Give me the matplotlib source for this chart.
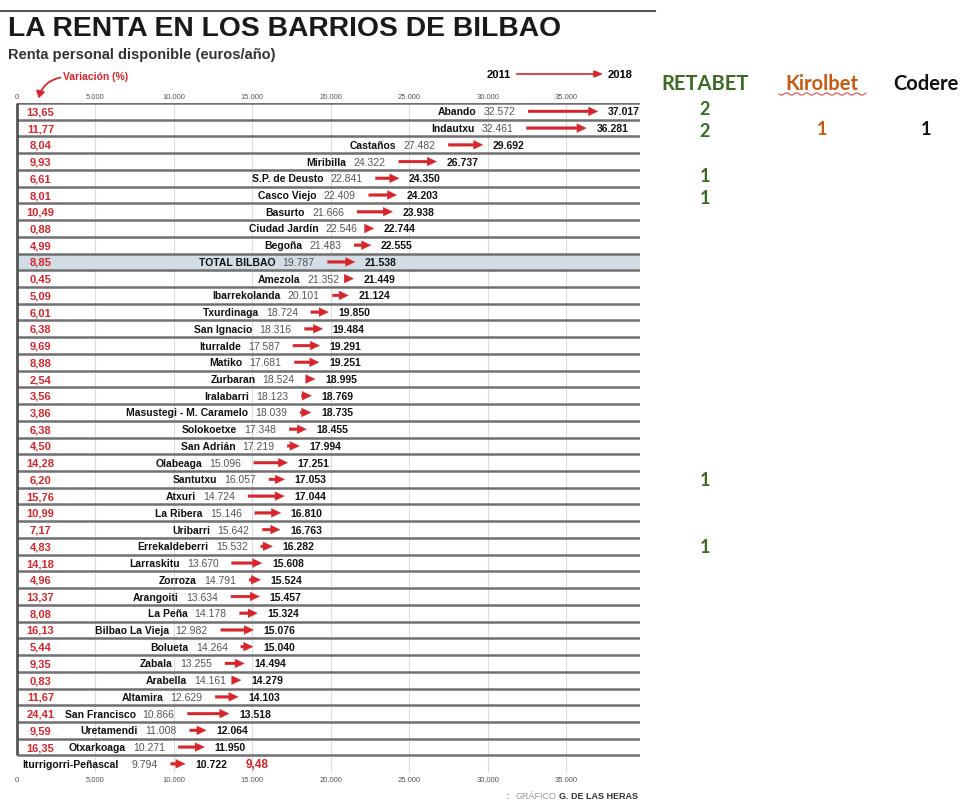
import numpy as np
import matplotlib.pyplot as plt
import matplotlib.transforms as mtransforms
from matplotlib.lines import Line2D
from matplotlib.patches import FancyArrowPatch

plt.rcParams['font.family'] = ['Liberation Sans Narrow', 'Liberation Sans', 'DejaVu Sans']

# datos: renta personal disponible por barrio (euros/año)
names = ["Abando", "Indautxu", "Castaños", "Miribilla", "S.P. de Deusto", "Casco Viejo",
         "Basurto", "Ciudad Jardín", "Begoña", "TOTAL BILBAO", "Amezola", "Ibarrekolanda",
         "Txurdinaga", "San Ignacio", "Iturralde", "Matiko", "Zurbaran", "Iralabarri",
         "Masustegi - M. Caramelo", "Solokoetxe", "San Adrián", "Olabeaga", "Santutxu",
         "Atxuri", "La Ribera", "Uribarri", "Errekaldeberri", "Larraskitu", "Zorroza",
         "Arangoiti", "La Peña", "Bilbao La Vieja", "Bolueta", "Zabala", "Arabella",
         "Altamira", "San Francisco", "Uretamendi", "Otxarkoaga", "Iturrigorri-Peñascal"]
renta_2011 = [32572, 32461, 27482, 24322, 22841, 22409, 21666, 22546, 21483, 19787,
              21352, 20101, 18724, 18316, 17587, 17681, 18524, 18123, 18039, 17348,
              17219, 15096, 16057, 14724, 15146, 15642, 15532, 13670, 14791, 13634,
              14178, 12982, 14264, 13255, 14161, 12629, 10866, 11008, 10271, 9794]
renta_2018 = [37017, 36281, 29692, 26737, 24350, 24203, 23938, 22744, 22555, 21538,
              21449, 21124, 19850, 19484, 19291, 19251, 18995, 18769, 18735, 18455,
              17994, 17251, 17053, 17044, 16810, 16763, 16282, 15608, 15524, 15457,
              15324, 15076, 15040, 14494, 14279, 14103, 13518, 12064, 11950, 10722]
variacion = [13.65, 11.77, 8.04, 9.93, 6.61, 8.01, 10.49, 0.88, 4.99, 8.85,
             0.45, 5.09, 6.01, 6.38, 9.69, 8.88, 2.54, 3.56, 3.86, 6.38,
             4.50, 14.28, 6.20, 15.76, 10.99, 7.17, 4.83, 14.18, 4.96, 13.37,
             8.08, 16.13, 5.44, 9.35, 0.83, 11.67, 24.41, 9.59, 16.35, 9.48]

# locales de apuestas por barrio
casas = ["RETABET", "Kirolbet", "Codere"]
retabet = {"Abando": 2, "Indautxu": 2, "S.P. de Deusto": 1, "Casco Viejo": 1,
           "Santutxu": 1, "Errekaldeberri": 1}
kirolbet = {"Indautxu": 1}
codere = {"Indautxu": 1}

ticks = list(range(0, 40000, 5000))

RED = '#d7262b'
W, H = 968, 804


def fx(px):
    return px / W


def fy(py):
    return 1 - py / H


def miles(v):
    return f"{v:,}".replace(',', '.')


def pct(v):
    return f"{v:.2f}".replace('.', ',')


fig = plt.figure(figsize=(W / 100, H / 100), dpi=100)
ax = fig.add_axes([fx(17), fy(774), 623 / W, 670 / H])

n = len(names)
ntab = n - 1
ax.set_xlim(0, 39700)
ax.set_ylim(n - 0.45, -0.5)

for s in ax.spines.values():
    s.set_visible(False)
ax.set_yticks([])
ax.set_xticks(ticks)
ax.set_xticklabels([miles(t) for t in ticks])
ax.tick_params(axis='x', length=0, labeltop=True, labelbottom=True,
               labelsize=5.5, labelcolor='#555555', pad=2)

for t in ticks[1:]:
    ax.axvline(t, color='#dcdcdc', lw=0.8, zorder=0)

total = names.index("TOTAL BILBAO")
ax.axhspan(total - 0.5, total + 0.5, color='#d3dde6', zorder=0.5, lw=0)
ax.hlines(np.arange(-0.5, ntab), 0, 39700, color='#707070', lw=1.8, zorder=1)
ax.vlines(0, -0.5, ntab - 0.5, color='#555555', lw=2, zorder=2, clip_on=False)


def off(dx, dy=0):
    return mtransforms.offset_copy(ax.transData, fig=fig, x=dx, y=dy, units='dots')


for i in range(n):
    x0, x1 = renta_2011[i], renta_2018[i]
    ax.annotate('', xy=(x1, i), xytext=(x0, i),
                arrowprops=dict(arrowstyle='simple,head_length=0.85,head_width=0.8,tail_width=0.25',
                                color=RED, lw=0.2, shrinkA=0, shrinkB=0, mutation_scale=8),
                zorder=3)
    ax.text(x1, i, miles(x1), transform=off(10), ha='left', va='center',
            fontsize=7.5, fontweight='bold', color='#111111')
    ax.text(x0, i, miles(x0), transform=off(-13), ha='right', va='center',
            fontsize=7.5, color='#555555')
    ax.text(x0, i, names[i], transform=off(-52), ha='right', va='center',
            fontsize=7.5, fontweight='bold', color='#111111')
    if i < ntab:
        ax.text(1500, i, pct(variacion[i]), ha='center', va='center',
                fontsize=8, fontweight='bold', color=RED)
    else:
        ax.text(x1, i, pct(variacion[i]), transform=off(60), ha='left', va='center',
                fontsize=8.5, fontweight='bold', color=RED)

# columnas de casas de apuestas
tr = mtransforms.blended_transform_factory(fig.transFigure, ax.transData)
col_x = [705, 822, 926]
col_c = ['#3b6b22', '#c55a11', '#111111']
for cx, cc, label, d in zip(col_x, col_c, casas, [retabet, kirolbet, codere]):
    fig.text(fx(cx), fy(84), label, ha='center', va='center', fontsize=14.5,
             fontweight='bold', color=cc, family='Lato')
    rows = [names.index(nm) for nm in d]
    for nm, v in d.items():
        r = names.index(nm)
        # separar un poco los números de filas contiguas
        dy = 0
        if r + 1 in rows:
            dy += 3
        if r - 1 in rows:
            dy -= 2
        t = mtransforms.offset_copy(tr, fig=fig, x=0, y=dy, units='dots')
        ax.text(fx(cx), r, str(v), transform=t, ha='center', va='center',
                fontsize=13, fontweight='bold', color=cc, family='Lato', clip_on=False)

xs = np.linspace(779, 866, 120)
fig.add_artist(Line2D(fx(xs), fy(95 + 1.1 * np.sin((xs - 779) / 1.6)), color='#e34848', lw=0.8))

# cabecera
fig.add_artist(Line2D([0, fx(655)], [fy(12), fy(12)], color='#555555', lw=1.5))
fig.text(fx(8), fy(29), "LA RENTA EN LOS BARRIOS DE BILBAO", fontsize=20.3,
         fontweight='bold', family='Liberation Sans', va='center', color='#1a1a1a')
fig.text(fx(8), fy(55), "Renta personal disponible (euros/año)", fontsize=10.5,
         fontweight='bold', color='#333333', va='center')
fig.text(fx(63), fy(77), "Variación (%)", fontsize=7.5, fontweight='bold',
         color=RED, va='center')
fig.add_artist(FancyArrowPatch(
    (fx(63), fy(78)), (fx(38), fy(102)), transform=fig.transFigure,
    arrowstyle='-|>,head_length=4,head_width=2.5', connectionstyle='arc3,rad=0.35',
    color=RED, lw=1.3))
fig.text(fx(487), fy(75), "2011", fontsize=8, fontweight='bold', va='center')
fig.text(fx(608), fy(75), "2018", fontsize=8, fontweight='bold', va='center')
fig.add_artist(FancyArrowPatch(
    (fx(514), fy(75)), (fx(606), fy(75)), transform=fig.transFigure,
    arrowstyle='-|>,head_length=5,head_width=2', color=RED, lw=1.2))

# pie
fig.text(fx(505), fy(797), "::", fontsize=6.5, color='#999999', va='center')
fig.text(fx(556), fy(797), "GRÁFICO", fontsize=6.5, color='#999999', va='center', ha='right')
fig.text(fx(559), fy(797), "G. DE LAS HERAS", fontsize=6.5, fontweight='bold',
         color='#333333', va='center')

fig.savefig('out.png', dpi=100, facecolor='white')
